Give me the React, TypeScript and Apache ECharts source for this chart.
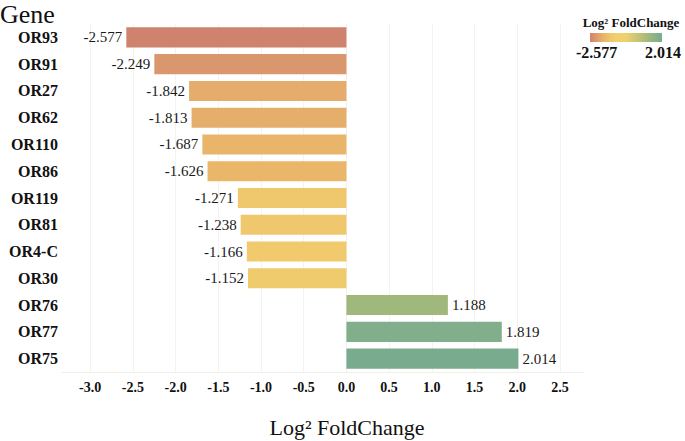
import React, { useEffect, useRef } from "react";
import * as echarts from "echarts";

const genes = ["OR93", "OR91", "OR27", "OR62", "OR110", "OR86", "OR119", "OR81", "OR4-C", "OR30", "OR76", "OR77", "OR75"];
const foldChange = [-2.577, -2.249, -1.842, -1.813, -1.687, -1.626, -1.271, -1.238, -1.166, -1.152, 1.188, 1.819, 2.014];
const xTicks = [-3.0, -2.5, -2.0, -1.5, -1.0, -0.5, 0.0, 0.5, 1.0, 1.5, 2.0, 2.5];
const colorMin = -2.577;
const colorMax = 2.014;
const palette = ["#cf826d", "#de9e6d", "#eab66a", "#f0ca6d", "#f1d06e", "#ecd26f", "#d5ca72", "#bec176", "#a5b979", "#8cb287", "#79ab8e"];

const SERIF = "Liberation Serif";

export default function App() {
  const ref = useRef<HTMLDivElement>(null);
  useEffect(() => {
    if (!ref.current) return;
    const chart = echarts.init(ref.current, undefined, { renderer: "svg" });
    const gradStops = palette.map((c, i) => ({ offset: i / (palette.length - 1), color: c }));
    const colorOf = (v: number) =>
      echarts.color.lerp((v - colorMin) / (colorMax - colorMin), palette) as string;
    const txt = (size: number, weight: string = "normal") => ({
      fontFamily: SERIF,
      fontSize: size,
      fontWeight: weight,
      fill: "#111",
    });
    chart.setOption({
      animation: false,
      backgroundColor: "#ffffff",
      textStyle: { fontFamily: SERIF },
      grid: { left: 62, right: 102, top: 24, bottom: 69, containLabel: false },
      xAxis: {
        type: "value",
        min: -3.33,
        max: 2.77,
        axisLine: { show: true, lineStyle: { color: "#f0f0ea", width: 1 } },
        axisTick: { show: false, customValues: xTicks },
        axisLabel: {
          customValues: xTicks,
          formatter: (v: number) => v.toFixed(1),
          fontFamily: SERIF,
          fontWeight: "bold",
          fontSize: 14,
          color: "#111",
          margin: 8,
        },
        splitLine: { show: true, lineStyle: { color: "#f4f4ef", width: 1 } },
      },
      yAxis: {
        type: "category",
        data: genes,
        inverse: true,
        axisLine: { show: true, lineStyle: { color: "#f0f0ea" } },
        axisTick: { show: false },
        axisLabel: {
          fontFamily: SERIF,
          fontWeight: "bold",
          fontSize: 16,
          color: "#111",
          margin: 4,
        },
        splitLine: { show: false },
      },
      series: [
        {
          type: "bar",
          barCategoryGap: "25%",
          data: foldChange.map((v) => ({
            value: v,
            itemStyle: { color: colorOf(v) },
            label: { position: v < 0 ? "left" : "right" },
          })),
          label: {
            show: true,
            distance: 4,
            fontFamily: SERIF,
            fontSize: 15,
            color: "#1a1a1a",
            formatter: (p: any) => Number(p.value).toFixed(3),
          },
        },
      ],
      graphic: [
        {
          type: "text",
          x: 0,
          y: 14,
          style: { text: "Gene", ...txt(26), verticalAlign: "middle" },
        },
        {
          type: "text",
          x: 347,
          y: 427,
          style: { text: "Log² FoldChange", ...txt(22), align: "center", verticalAlign: "middle" },
        },
        {
          type: "text",
          x: 631,
          y: 22,
          style: { text: "Log² FoldChange", ...txt(13, "bold"), align: "center", verticalAlign: "middle" },
        },
        {
          type: "rect",
          shape: { x: 590, y: 33, width: 72, height: 9 },
          style: { fill: new echarts.graphic.LinearGradient(0, 0, 1, 0, gradStops) },
        },
        {
          type: "text",
          x: 576,
          y: 52,
          style: { text: colorMin.toFixed(3), ...txt(16, "bold"), align: "left", verticalAlign: "middle" },
        },
        {
          type: "text",
          x: 681,
          y: 52,
          style: { text: colorMax.toFixed(3), ...txt(16, "bold"), align: "right", verticalAlign: "middle" },
        },
      ],
    });
    return () => chart.dispose();
  }, []);
  return (
    <div
      ref={ref}
      style={{ position: "fixed", left: 0, top: 0, width: 685, height: 441, background: "#fff" }}
    />
  );
}
